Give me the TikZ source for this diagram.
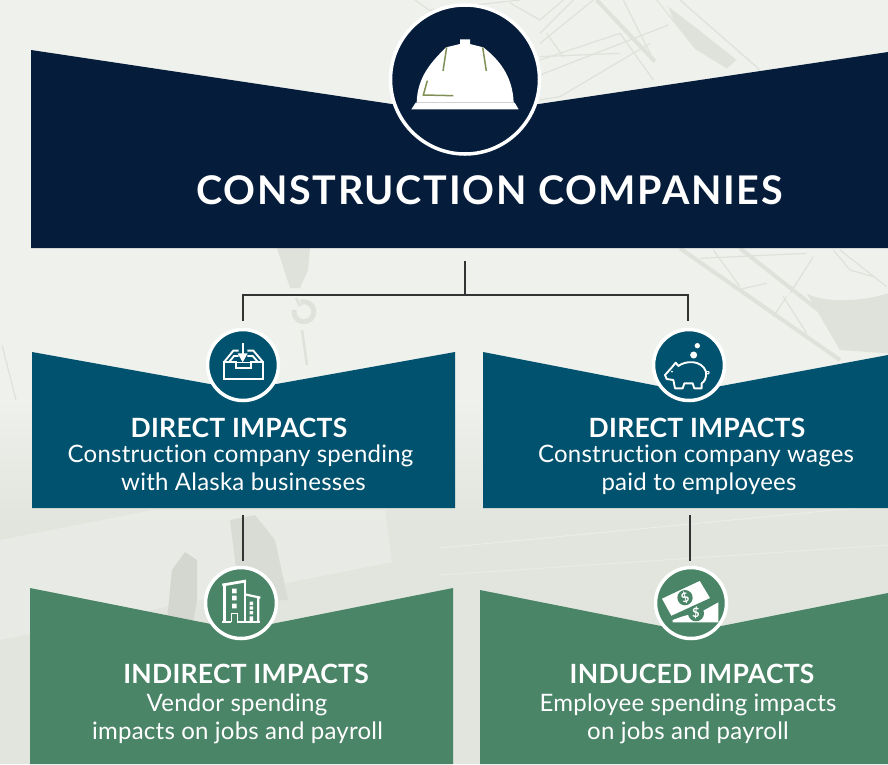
\documentclass[tikz,border=0pt]{standalone}
\usepackage{fontspec}
\setmainfont{Lato}[Ligatures=NoCommon]
\usetikzlibrary{shapes.geometric}
\definecolor{navy}{HTML}{051C3B}
\definecolor{teal}{HTML}{00526E}
\definecolor{grn}{HTML}{4A8568}
\definecolor{hatg}{HTML}{7F8F55}
\definecolor{bgA}{HTML}{EEF1EC}
\definecolor{bgB}{HTML}{E2E5DD}
\definecolor{lat}{HTML}{DFE2DB}
\definecolor{cone}{HTML}{333333}
\tikzset{
  ring/.style={circle,draw=white,line width=3.5pt,minimum size=#1,inner sep=0pt},
  head/.style={text=white,anchor=base,inner sep=0pt,font=\fontsize{26.5}{30}\selectfont\bfseries\addfontfeature{LetterSpace=1}},
  body/.style={text=white,anchor=base,inner sep=0pt,font=\fontsize{24}{28.5}\selectfont\addfontfeature{LetterSpace=1}},
  conn/.style={draw=cone,line width=1.5pt},
  icon/.style={draw=white,line width=1.9pt,line join=miter},
  latl/.style={draw=lat,line width=1.2pt},
  latb/.style={draw=lat,line width=4pt},
}
\begin{document}
\begin{tikzpicture}[x=1pt,y=-1pt]
\useasboundingbox (0,0) rectangle (888,764);
% background
\fill[bgA] (0,0) rectangle (888,400);
\shade[top color=bgA,bottom color=bgB] (0,400) rectangle (888,525);
\fill[bgB] (0,525) rectangle (888,764);
% crane, upper part
\begin{scope}[shift={(540,0)},x=1/3*1pt,y=-1/3*1pt]
\fill[lat] (385,20) -- (470,85) -- (590,180) -- (560,205) -- (470,150) -- (400,60) -- cycle;
\draw[latb] (170,0) -- (345,185);
\draw[latl] (420,0) -- (660,210);
\draw[latl] (350,0) -- (470,150);
\draw[latl] (250,0) -- (340,180);
\draw[latl] (0,180) -- (240,100);
\draw[latl] (0,225) -- (385,75);
\draw[latl] (60,290) -- (330,130);
\draw[latl] (0,60) -- (70,0);
\draw[latl] (0,130) -- (160,0);
\draw[latl] (0,300) -- (60,290);
\draw[latl] (100,0) -- (0,100);
\draw[latl] (0,170) -- (240,160);
\draw[latl] (240,100) -- (340,240);
\draw[latl] (20,100) -- (70,170);
% lower part
\fill[lat] (800,880) .. controls (840,905) and (950,910) .. (1044,880) -- (1044,1060) -- (900,1050) -- cycle;
\draw[latb] (420,745) -- (900,1080);
\draw[latb] (600,745) -- (860,950);
\draw[latl] (480,775) -- (800,760);
\draw[latl] (520,750) -- (600,860);
\draw[latl] (590,870) -- (680,850);
\draw[latl] (820,770) -- (750,880);
\draw[latl] (700,950) -- (740,890);
\draw[latl] (730,890) -- (800,1000);
\draw[latl] (900,750) -- (1040,860);
\draw[latl] (880,750) -- (930,810) -- (1000,830);
\end{scope}
\foreach \a/\b/\c/\d in {430/10/520/0, 540/20/510/3, 415/0/450/25}
  \draw[latl] (\a,\b) -- (\c,\d);
% hook
\fill[lat] (277,248) -- (310,248) -- (308,270) -- (300,288) -- (290,288) -- cycle;
\draw[lat,line width=2.5pt] (296,298) -- (300,306);
\draw[lat,line width=5pt] (294,310) arc (190:-110:10);
\draw[lat,line width=2.5pt] (302,330) -- (307,365);
\draw[lat,line width=1.2pt] (2,345) -- (16,400);
% lower scene
\fill[bgA,opacity=.55] (0,540) -- (153,510) -- (385,510) -- (392,562) -- (0,640) -- cycle;
\fill[black!6!bgB] (172,570) -- (185,552) -- (197,560) -- (197,600) -- (190,640) -- (165,640) -- cycle;
\fill[black!4!bgB] (230,520) -- (255,515) -- (275,540) -- (288,600) -- (240,600) -- cycle;
\draw[bgA!70!bgB,line width=1pt] (440,548) -- (888,505);
\draw[bgA!60!bgB,line width=1pt] (440,575) -- (888,545);
% banner
\fill[navy] (31,50) -- (465,115) -- (888,52) -- (888,248) -- (31,248) -- cycle;
\fill[teal] (32,352) -- (243,390) -- (455,352) -- (455,508) -- (32,508) -- cycle;
\fill[teal] (483,352) -- (689,392) -- (888,355) -- (888,508) -- (483,508) -- cycle;
\fill[grn] (30,588) -- (241,630) -- (453,588) -- (453,764) -- (30,764) -- cycle;
\fill[grn] (480,590) -- (691,632) -- (888,593) -- (888,764) -- (480,764) -- cycle;
% circles
\node[ring=149pt,fill=navy] (hat) at (465,79.5) {};
\node[ring=71pt,fill=teal] (inbox) at (243,365) {};
\node[ring=71pt,fill=teal] (pig) at (689,365) {};
\node[ring=71pt,fill=grn] (bldg) at (241,603) {};
\node[ring=71pt,fill=grn] (cash) at (691,603) {};
% connectors
\coordinate (s0) at (465,261);
\coordinate (j0) at (465,295);
\coordinate (jl) at (243,295);
\coordinate (jr) at (688,295);
\coordinate (el) at (243,321);
\coordinate (er) at (688,321);
\coordinate (dl) at (243,515);
\coordinate (dr) at (690,515);
\coordinate (fl) at (243,561);
\coordinate (fr) at (690,561);
\draw[conn] (s0) -- (j0);
\draw[conn,line join=miter] (el) -- (jl) -- (jr) -- (er);
\draw[conn] (dl) -- (fl);
\draw[conn] (dr) -- (fr);
% hard hat
\begin{scope}[shift={(370,0)},x=1/3*1pt,y=-1/3*1pt]
\fill[white] (140,308) .. controls (142,230) and (185,185) .. (228,142) -- (270,132) -- (270,118) -- (300,118) -- (300,132) -- (340,142) .. controls (395,185) and (428,235) .. (431,308) -- cycle;
\fill[white] (137,308) -- (434,308) -- (446,328) -- (124,328) -- cycle;
\draw[black!18,line width=.6pt] (140,307) -- (431,307);
\draw[hatg,line width=1.5pt] (230,142) -- (219,213);
\draw[hatg,line width=1.5pt] (338,142) -- (349,213);
\draw[hatg,line width=1.5pt] (172,242) -- (160,285) -- (250,287);
\end{scope}
% inbox
\begin{scope}[shift={(190,320)},x=1/3*1pt,y=-1/3*1pt]
\draw[icon] (103,125) rectangle (218,178);
\draw[icon] (103,125) -- (130,92) -- (146,92);
\draw[icon] (218,125) -- (190,92) -- (172,92);
\draw[icon] (118,125) -- (132,108) -- (146,108);
\draw[icon] (203,125) -- (188,108) -- (172,108);
\fill[teal] (140,120) rectangle (180,127);
\draw[icon] (138,125) -- (138,143) -- (182,143) -- (182,125);
\draw[white,line width=2pt] (158,70) -- (158,102);
\fill[white] (143,100) -- (173,100) -- (158,127) -- cycle;
\end{scope}
% piggy bank
\begin{scope}[shift={(635,320)},x=1/3*1pt,y=-1/3*1pt]
\fill[white] (176,105) circle (10.5) (187,77) circle (8);
\draw[icon,line join=round] (90,165) -- (108,145) -- (122,128) -- (130,138) .. controls (150,122) and (200,118) .. (213,155) .. controls (215,175) and (208,185) .. (200,190) -- (200,205) -- (178,205) -- (173,190) -- (148,190) -- (143,205) -- (120,205) -- (115,180) -- (95,177) -- cycle;
\draw[white,line width=1pt] (213,160) .. controls (225,168) and (225,150) .. (216,155);
\fill[white] (111,155) circle (3);
\end{scope}
% building
\begin{scope}[shift={(190,555)},x=1/3*1pt,y=-1/3*1pt]
\draw[white,line width=2.8pt] (97,90) -- (168,78);
\draw[white,line width=2.6pt] (103,90) -- (103,200) (165,82) -- (165,200);
\draw[white,line width=2.2pt] (165,118) -- (211,128) (205,128) -- (205,200);
\draw[white,line width=2.4pt] (97,201) -- (123,201) (142,201) -- (211,201);
\draw[white,line width=1.6pt] (124,200) -- (124,175) -- (142,175) -- (142,200);
\fill[white] (126,101) rectangle (140,115) (126,122) rectangle (140,136) (126,146) rectangle (140,160);
\fill[white] (179,140) rectangle (189,150) (179,154) rectangle (189,164) (179,168) rectangle (189,178) (179,184) rectangle (189,200);
\end{scope}
% money
\begin{scope}[shift={(635,555)},x=1/3*1pt,y=-1/3*1pt]
\fill[white] (113,202) -- (250,202) -- (250,142) -- (205,167) -- (140,185) -- (113,195) -- cycle;
\fill[white,draw=grn,line width=1.2pt] (78,130) -- (195,75) -- (228,130) -- (108,185) -- cycle;
\fill[grn] (150,128) circle (23) (183,175) circle (24);
\node[text=white,font=\bfseries\fontsize{13}{13}\selectfont,inner sep=0pt,rotate=20] (d1) at (150,128) {\$};
\node[text=white,font=\bfseries\fontsize{13}{13}\selectfont,inner sep=0pt] (d2) at (183,175) {\$};
\end{scope}
% text
\node[text=white,anchor=base,inner sep=0pt,font=\fontsize{39.5}{44}\selectfont\bfseries\addfontfeature{LetterSpace=4.3}] (title) at (489.5,204) {CONSTRUCTION COMPANIES};
\node[head] (h1) at (239,437) {DIRECT IMPACTS};
\node[body] (b1a) at (240.5,462) {Construction company spending};
\node[body] (b1b) at (243.5,490) {with Alaska businesses};
\node[head] (h2) at (697,437) {DIRECT IMPACTS};
\node[body] (b2a) at (696,462) {Construction company wages};
\node[body] (b2b) at (699,490) {paid to employees};
\node[head] (h3) at (246,683) {INDIRECT IMPACTS};
\node[body] (b3a) at (237,711) {Vendor spending};
\node[body] (b3b) at (237.5,739) {impacts on jobs and payroll};
\node[head] (h4) at (692,683) {INDUCED IMPACTS};
\node[body] (b4a) at (688,711) {Employee spending impacts};
\node[body] (b4b) at (688,739) {on jobs and payroll};
\end{tikzpicture}
\end{document}
